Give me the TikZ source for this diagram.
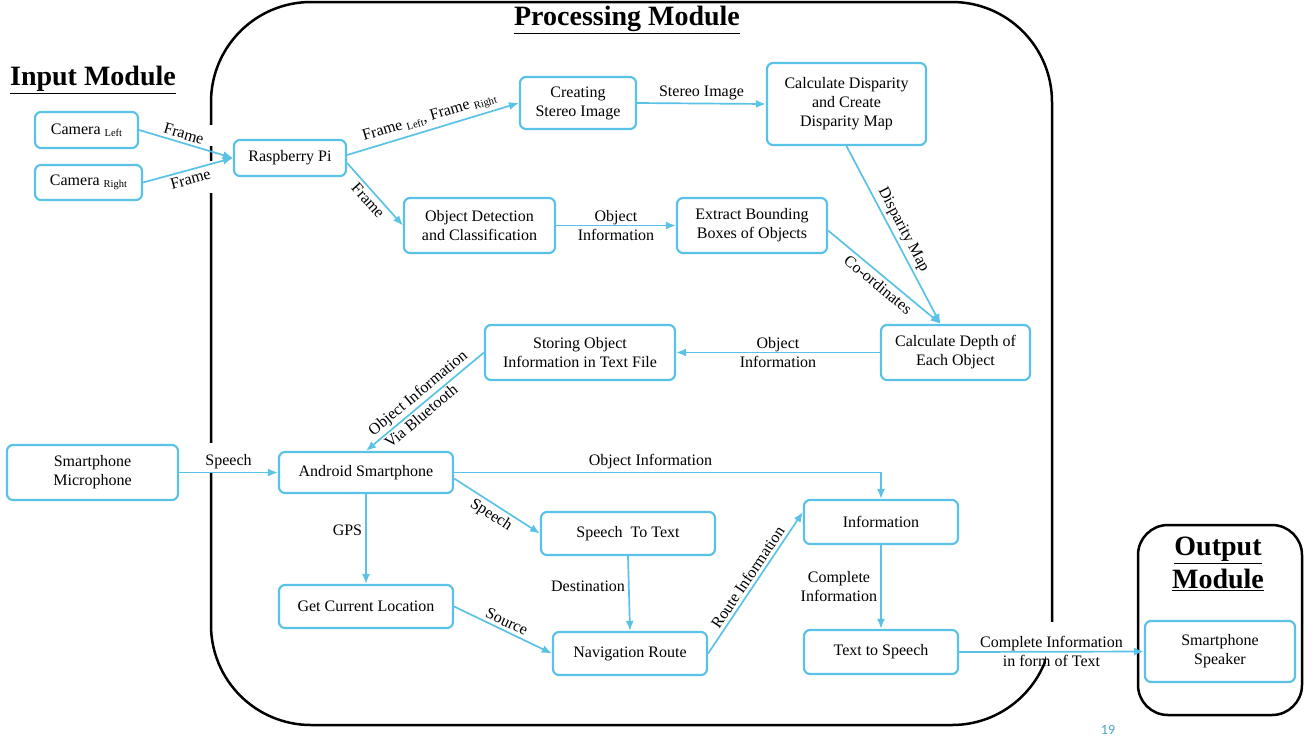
\documentclass[tikz,border=0pt]{standalone}
\usepackage{fontspec}
\setmainfont{Liberation Serif}
\newfontfamily\pagefont{Carlito}
\usetikzlibrary{arrows.meta,calc}
\definecolor{cblue}{RGB}{91,194,231}
\newcommand{\lsub}[1]{{\fontsize{10.5}{10.5}\selectfont\raisebox{-2.5pt}{#1}}}
\begin{document}
\begin{tikzpicture}[x=1pt,y=-1pt,
 box/.style={draw=cblue,line width=2.2pt,rounded corners=6pt,align=center,font=\fontsize{16}{19}\selectfont,inner sep=2pt},
 arr/.style={draw=cblue,line width=1.7pt,-{Latex[length=10pt,width=8pt]}},
 lab/.style={font=\fontsize{16}{19}\selectfont,align=center,text=black,inner sep=3pt},
 title/.style={font=\fontsize{28}{33}\selectfont\bfseries,align=center},
 frame/.style={draw=black,line width=2.5pt}]
\useasboundingbox (0,0) rectangle (1315,740);
% frames
\draw[frame, rounded corners=100pt] (211,2) rectangle (1052,725);
\fill[white] (205,125) rectangle (217,146);
\fill[white] (205,161) rectangle (217,193);
\fill[white] (205,443) rectangle (217,473);
\fill[white] (1046,622) rectangle (1058,673);
\draw[frame, rounded corners=30pt] (1138,525) rectangle (1302,715);
% titles
\node[title] (tin) at (93,80) {\underline{Input Module}};
\node[title] (tproc) at (627,20) {\underline{Processing Module}};
\node[title] (tout) at (1218,564) {\underline{Output}\\\underline{Module}};
% boxes
\node[box,minimum width=103pt,minimum height=36pt] (caml) at (86.5,130) {Camera \lsub{Left}};
\node[box,minimum width=107pt,minimum height=35pt] (camr) at (88.5,182.5) {Camera \lsub{Right}};
\node[box,minimum width=112pt,minimum height=36pt] (rpi) at (290,158) {Raspberry Pi};
\node[box,minimum width=116pt,minimum height=52pt] (stereo) at (578,103) {Creating\\Stereo Image};
\node[box,minimum width=159pt,minimum height=82pt] (disp) at (846.5,104) {Calculate Disparity\\and Create\\Disparity Map};
\node[box,minimum width=151pt,minimum height=55pt] (objdet) at (479.5,225.5) {Object Detection\\and Classification};
\node[box,minimum width=150pt,minimum height=55pt] (extract) at (752,225.5) {Extract Bounding\\Boxes of Objects};
\node[box,minimum width=149pt,minimum height=55pt] (depth) at (955.5,352.5) {Calculate Depth of\\Each Object};
\node[box,minimum width=190pt,minimum height=55pt] (storing) at (580,352.5) {Storing Object\\Information in Text File};
\node[box,minimum width=171pt,minimum height=55pt] (mic) at (92.5,472.5) {Smartphone\\Microphone};
\node[box,minimum width=174pt,minimum height=41pt] (android) at (366,472.5) {Android Smartphone};
\node[box,minimum width=174pt,minimum height=43pt] (stt) at (628,533.5) {Speech\ \ To Text};
\node[box,minimum width=174pt,minimum height=43pt] (getloc) at (366,606.5) {Get Current Location};
\node[box,minimum width=154pt,minimum height=43pt] (nav) at (630,653.5) {Navigation Route};
\node[box,minimum width=154pt,minimum height=44pt] (info) at (881,522) {Information};
\node[box,minimum width=154pt,minimum height=44pt] (tts) at (881,652) {Text to Speech};
\node[box,minimum width=150pt,minimum height=61pt] (speaker) at (1220,651.5) {Smartphone\\Speaker};
% connectors
\draw[arr] (caml.east) -- node[lab,sloped,above,pos=.45]{Frame} (rpi.west);
\draw[arr] (camr.east) -- node[lab,sloped,below,pos=.5]{Frame} (rpi.west);
\draw[arr] ($(rpi.east)+(0,-3)$) -- node[lab,sloped,above]{Frame \lsub{Left}, Frame \lsub{Right}} (stereo.west);
\draw[arr] ($(rpi.east)+(0,5)$) -- node[lab,sloped,below]{Frame} (objdet.west);
\draw[arr] (stereo.east) -- node[lab,above]{Stereo Image} (disp.west);
\draw[arr] (objdet.east) -- node[lab]{Object\\Information} (extract.west);
\coordinate (dtop) at ($(depth.north)+(-15,0)$);
\draw[arr] (disp.south) -- node[lab,sloped,above]{Disparity Map} (dtop);
\draw[arr] ($(extract.east)+(0,5)$) -- node[lab,sloped,below]{Co-ordinates} (dtop);
\draw[arr] (depth.west) -- node[lab]{Object\\Information} (storing.east);
\draw[arr] (storing.west) -- node[lab,sloped,above,inner sep=2pt,pos=.5]{Object Information} node[lab,sloped,below,inner sep=2pt,pos=.58]{Via Bluetooth} (android.north);
\draw[arr] (mic.east) -- node[lab,above]{Speech} (android.west);
\draw[arr] (android.east) -| node[lab,above,pos=.23]{Object Information} (info.north);
\draw[arr] ($(android.east)+(0,6)$) -- node[lab,sloped,below]{Speech} (stt.west);
\draw[arr] (android.south) -- node[lab,left,pos=.4]{GPS} (getloc.north);
\draw[arr] (stt.south) -- node[lab,left,pos=.4]{Destination} (nav.north);
\draw[arr] (getloc.east) -- node[lab,sloped,above]{Source} (nav.west);
\draw[arr] (nav.east) -- node[lab,sloped,above]{Route Information} ($(info.west)+(0,-10)$);
\draw[arr] (info.south) -- node[lab,left]{Complete\\Information} (tts.north);
\draw[arr] (tts.east) -- node[lab]{Complete Information\\in form of Text} (speaker.west);
\node[text=cblue!85!black, font=\pagefont\fontsize{14}{14}\selectfont] (pg) at (1108,730) {19};
\end{tikzpicture}
\end{document}
